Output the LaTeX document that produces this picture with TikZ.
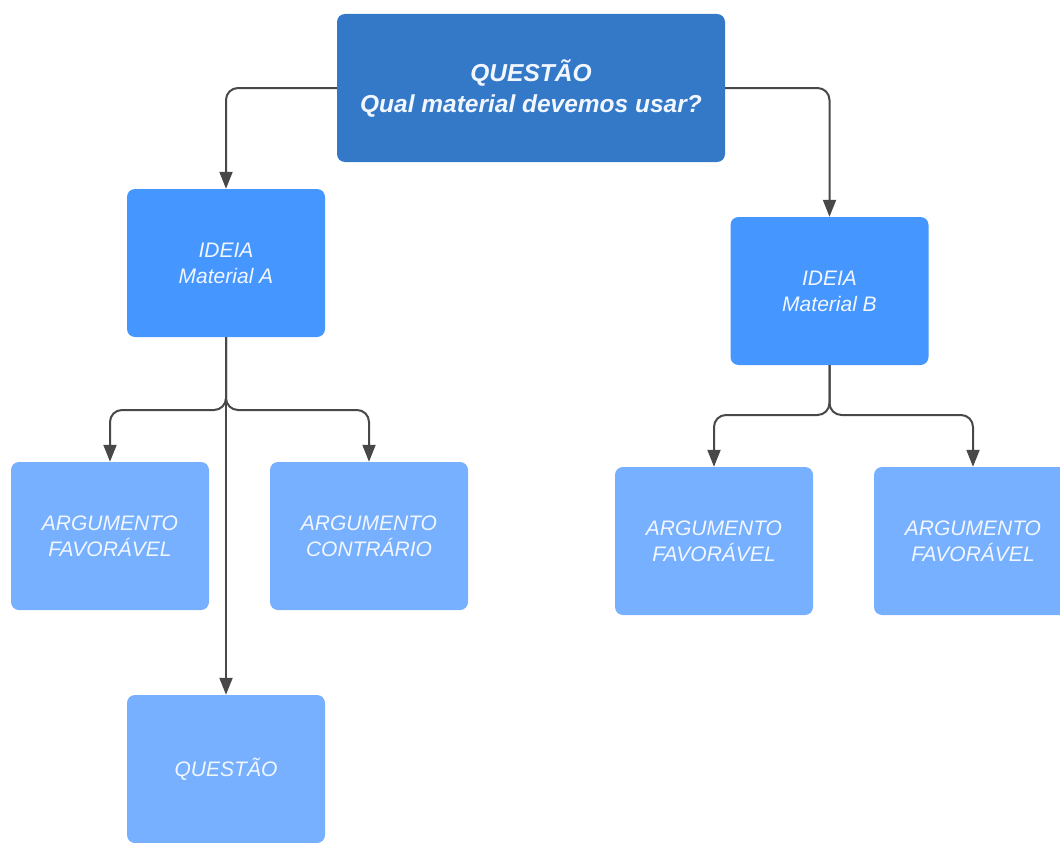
\documentclass[tikz,border=0pt]{standalone}
\usepackage{fontspec}
\setmainfont{Liberation Sans}
\usetikzlibrary{arrows.meta}
\definecolor{topblue}{HTML}{3478C8}
\definecolor{ideablue}{HTML}{4596FF}
\definecolor{argblue}{HTML}{76B0FF}
\definecolor{lightwhite}{HTML}{F2F7FF}
\definecolor{linegray}{HTML}{484848}
\begin{document}
\begin{tikzpicture}[x=1pt,y=-1pt]
	\tikzstyle{question}=[rectangle,rounded corners=8pt,fill=topblue,text=lightwhite,minimum width=388pt,minimum height=148pt,align=center,font=\fontsize{24.5}{31}\selectfont\bfseries\itshape]
	\tikzstyle{idea}=[rectangle,rounded corners=8pt,fill=ideablue,text=lightwhite,minimum width=198pt,minimum height=148pt,align=center,font=\fontsize{21}{26}\selectfont\itshape]
	\tikzstyle{argument}=[rectangle,rounded corners=8pt,fill=argblue,text=lightwhite,minimum width=198pt,minimum height=148pt,align=center,font=\fontsize{21}{26}\selectfont\itshape]
	\tikzstyle{conn}=[draw=linegray,line width=2pt,rounded corners=12pt,-{Triangle[length=17pt,width=13pt]}]
	\useasboundingbox (0,0) rectangle (1060,843);
	\begin{scope}

		\node [question] (q0) at (531,88) {QUESTÃO\\Qual material devemos usar?};
		\node [idea] (ideaA) at (226,263) {IDEIA\\Material A};
		\node [idea] (ideaB) at (829.5,291) {IDEIA\\Material B};

		\node [argument] (favA) at (110,536) {ARGUMENTO\\FAVORÁVEL};
		\node [argument] (conA) at (369,536) {ARGUMENTO\\CONTRÁRIO};
		\node [argument] (qA) at (226,769) {QUESTÃO};
		\node [argument] (favB1) at (714,541) {ARGUMENTO\\FAVORÁVEL};
		\node [argument] (favB2) at (973,541) {ARGUMENTO\\FAVORÁVEL};

		\coordinate (forkA) at (226,410);
		\coordinate (forkB) at (829.5,415);

		\path[conn] (q0.west) -| (ideaA.north);
		\path[conn] (q0.east) -| (ideaB.north);

		\path[conn] (ideaA.south) -- (forkA) -| (favA.north);
		\path[conn] (ideaA.south) -- (forkA) -| (conA.north);
		\path[conn] (ideaA.south) -- (qA.north);

		\path[conn] (ideaB.south) -- (forkB) -| (favB1.north);
		\path[conn] (ideaB.south) -- (forkB) -| (favB2.north);
	\end{scope}
\end{tikzpicture}
\end{document}
